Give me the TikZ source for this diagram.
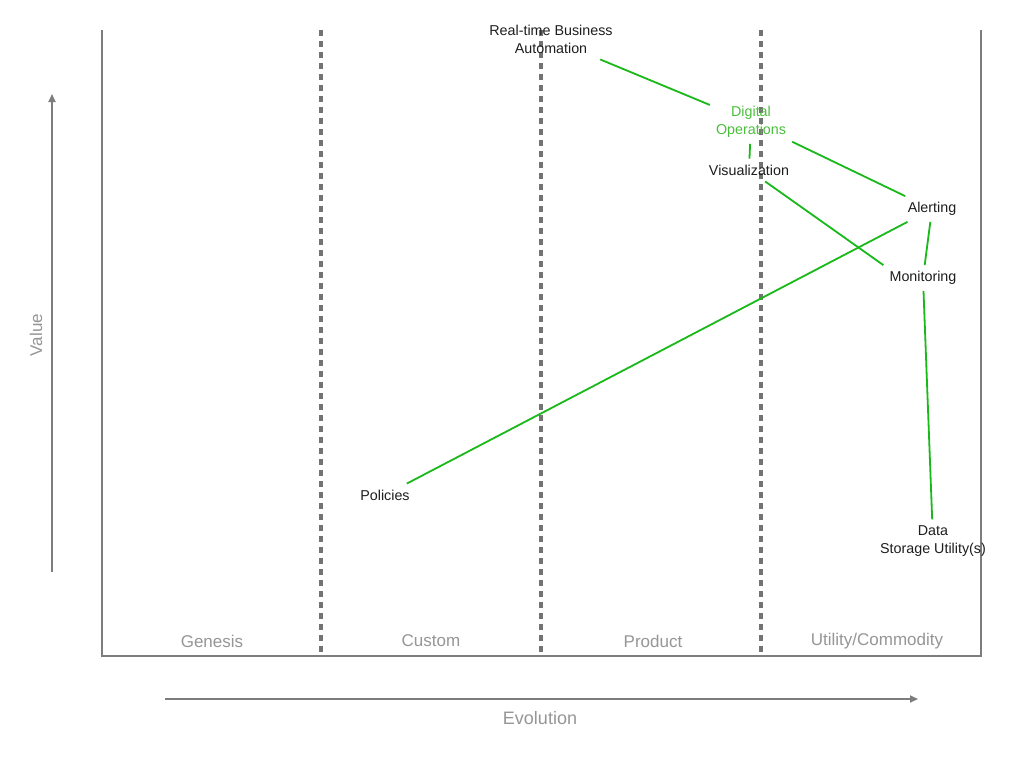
\documentclass[tikz,border=0pt]{standalone}
\usepackage{fontspec}
\setmainfont{Liberation Sans}
\usetikzlibrary{arrows.meta}
\definecolor{axisgray}{RGB}{125,125,125}
\definecolor{dashgray}{RGB}{115,115,115}
\definecolor{labgray}{RGB}{150,150,150}
\definecolor{linkgreen}{RGB}{25,185,25}
\definecolor{txtgreen}{RGB}{75,190,60}
\definecolor{txtdark}{RGB}{30,30,30}
\begin{document}
\begin{tikzpicture}[x=1pt,y=-1pt,
  comp/.style={inner sep=6pt, align=center, text=txtdark, font=\fontsize{14.3}{18}\selectfont},
  stagelab/.style={inner sep=0pt, text=labgray, font=\fontsize{17}{20}\selectfont},
  frameline/.style={draw=axisgray, line width=2pt},
  stageline/.style={draw=dashgray, line width=3.2pt, dash pattern=on 6pt off 5pt},
  axisarrow/.style={draw=axisgray, line width=1.8pt, -{Triangle[length=8pt,width=7pt]}},
  link/.style={draw=linkgreen, line width=1.8pt}]
\useasboundingbox (0,0) rectangle (1024,768);
\fill[white] (0,0) rectangle (1024,768);
% frame
\coordinate (tl) at (102,30);
\coordinate (bl) at (102,656);
\coordinate (br) at (981,656);
\coordinate (tr) at (981,30);
\draw[frameline] (tl) -- (bl) -- (br) -- (tr);
% stage separators
\coordinate (s1t) at (321,30); \coordinate (s1b) at (321,656);
\coordinate (s2t) at (541,30); \coordinate (s2b) at (541,656);
\coordinate (s3t) at (761,30); \coordinate (s3b) at (761,656);
\draw[stageline] (s1t) -- (s1b);
\draw[stageline] (s2t) -- (s2b);
\draw[stageline] (s3t) -- (s3b);
% stage labels
\node[stagelab] (genesis) at (212,641) {Genesis};
\node[stagelab] (custom) at (431,641) {Custom};
\node[stagelab] (product) at (653,641) {Product};
\node[stagelab] (utility) at (877,641) {Utility/Commodity};
% axes
\coordinate (vstart) at (52,572); \coordinate (vend) at (52,94);
\draw[axisarrow] (vstart) -- (vend);
\node[stagelab, rotate=90] (value) at (36,335) {Value};
\coordinate (estart) at (165,699); \coordinate (eend) at (918,699);
\draw[axisarrow] (estart) -- (eend);
\node[stagelab, font=\fontsize{18}{20}\selectfont] (evolution) at (540,718) {Evolution};
% components
\node[comp] (rtba) at (551,39) {Real-time Business\\Automation};
\node[comp, text=txtgreen] (digops) at (751,122) {Digital\\Operations};
\node[comp] (vis) at (749,170) {Visualization};
\node[comp] (alert) at (932,209) {Alerting};
\node[comp] (mon) at (923,278) {Monitoring};
\node[comp] (pol) at (385,495) {Policies};
\node[comp] (data) at (933,541) {Data\\Storage Utility(s)};
% links
\draw[link] (rtba) -- (digops);
\draw[link] (digops) -- (vis);
\draw[link] (digops) -- (alert);
\draw[link] (vis) -- (mon.north west);
\draw[link] (alert) -- (pol);
\draw[link] (alert) -- (mon);
\draw[link] (mon) -- (data);
\end{tikzpicture}
\end{document}
